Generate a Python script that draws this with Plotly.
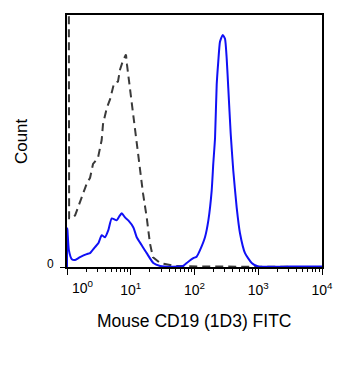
import plotly.graph_objects as go

# Isotype control (dashed) – fluorescence vs count
iso_x = [1.06, 1.07, 1.08, 1.19, 1.34, 1.60, 2.04, 2.30, 2.56, 3.06, 3.50, 3.67, 4.20, 4.73,
         5.21, 5.46, 6.31, 6.78, 7.55, 8.42, 8.73, 9.39, 10.35, 11.2, 12.4, 14.0, 15.6,
         17.8, 20.0, 22.3, 28.8, 34.4, 49.4, 122, 1065, 10000]
iso_y = [99.5, 99.2, 19.3, 19.3, 20.5, 25.6, 33.1, 35.4, 40.9, 43.3, 50.4, 56.7, 63.0, 66.5,
         70.5, 72.8, 73.6, 78.3, 81.9, 84.3, 80.3, 73.6, 66.9, 59.1, 48.0, 38.2, 29.1,
         19.7, 9.4, 3.9, 1.6, 1.2, 0.4, 0.2, 0.1, 0.0]

# CD19 stained (blue)
cd19_x = [1.0, 1.01, 1.07, 1.19, 1.34, 1.60, 2.04, 2.30, 2.75, 3.10, 3.50, 3.95, 4.45, 5.03,
          6.02, 6.61, 7.21, 8.12, 9.15, 11.0, 12.4, 14.8, 17.8, 22.6, 28.8, 46.0, 66.0,
          79.1, 95.8, 108, 122, 146, 165, 186, 197, 210, 223, 236, 251, 277, 301, 320,
          339, 370, 406, 459, 517, 620, 789, 1002, 3148, 10000]
cd19_y = [0.0, 15.4, 6.7, 3.1, 2.8, 3.9, 5.1, 5.5, 7.9, 9.4, 12.6, 11.8, 14.6, 19.3,
          18.5, 20.1, 21.3, 19.7, 18.5, 15.7, 11.8, 8.7, 5.5, 1.6, 0.4, 0.1, 0.4,
          2.0, 3.5, 4.1, 6.7, 11.8, 18.5, 30.3, 40.9, 51.2, 72.4, 81.5, 89.4, 92.1, 90.6, 82.7,
          70.9, 52.8, 38.2, 23.6, 13.4, 5.5, 1.6, 0.2, 0.15, 0.15]

major_vals = [1, 10, 100, 1000, 10000]
major_text = ["", "10<sup>1</sup>", "10<sup>2</sup>", "10<sup>3</sup>", "10<sup>4</sup>"]
minor_vals = [m * 10 ** d for d in range(4) for m in range(2, 10)]

FONT = "Arial, Liberation Sans, sans-serif"

fig = go.Figure()
fig.add_trace(go.Scatter(x=iso_x, y=iso_y, mode="lines",
                         line=dict(color="#3a3a3a", width=2, dash="8px,5px"),
                         showlegend=False))
fig.add_trace(go.Scatter(x=cd19_x, y=cd19_y, mode="lines",
                         line=dict(color="#1010f5", width=2, shape="spline", smoothing=0.5),
                         showlegend=False))

fig.update_layout(
    width=363, height=367,
    margin=dict(l=59, r=49, t=5, b=108),
    paper_bgcolor="white", plot_bgcolor="white",
    font=dict(family=FONT, color="black"),
    xaxis=dict(type="log", range=[0, 4], showgrid=False, zeroline=False,
               showline=True, linecolor="black", linewidth=2, mirror=True,
               tickmode="array", tickvals=major_vals, ticktext=major_text,
               ticks="outside", ticklen=6, tickwidth=1, tickcolor="black",
               ticklabelstandoff=3,
               tickfont=dict(size=14, family=FONT),
               minor=dict(tickmode="array", tickvals=minor_vals, ticks="outside",
                          ticklen=3, tickwidth=1, tickcolor="black")),
    yaxis=dict(range=[0, 100], showgrid=False, zeroline=False,
               showline=True, linecolor="black", linewidth=2, mirror=True,
               tickmode="array", tickvals=[0], ticktext=[""],
               ticks="outside", ticklen=5, tickwidth=1, tickcolor="black"),
    annotations=[
        dict(text="0", x=-0.045, y=0.012, xref="paper", yref="paper",
             xanchor="right", yanchor="middle", showarrow=False,
             font=dict(size=12, family=FONT)),
        dict(text="10<sup>0</sup>", x=0.061, y=-0.035, xref="paper", yref="paper",
             xanchor="center", yanchor="top", showarrow=False,
             font=dict(size=14, family=FONT)),
        dict(text="Mouse CD19 (1D3) FITC", x=0.5, y=-0.213, xref="paper", yref="paper",
             xanchor="center", yanchor="middle", showarrow=False,
             font=dict(size=17.5, family=FONT)),
        dict(text="Count", x=-0.18, y=0.5, xref="paper", yref="paper",
             xanchor="center", yanchor="middle", showarrow=False, textangle=-90,
             font=dict(size=17, family=FONT)),
    ],
)

fig.write_html("out.html")
